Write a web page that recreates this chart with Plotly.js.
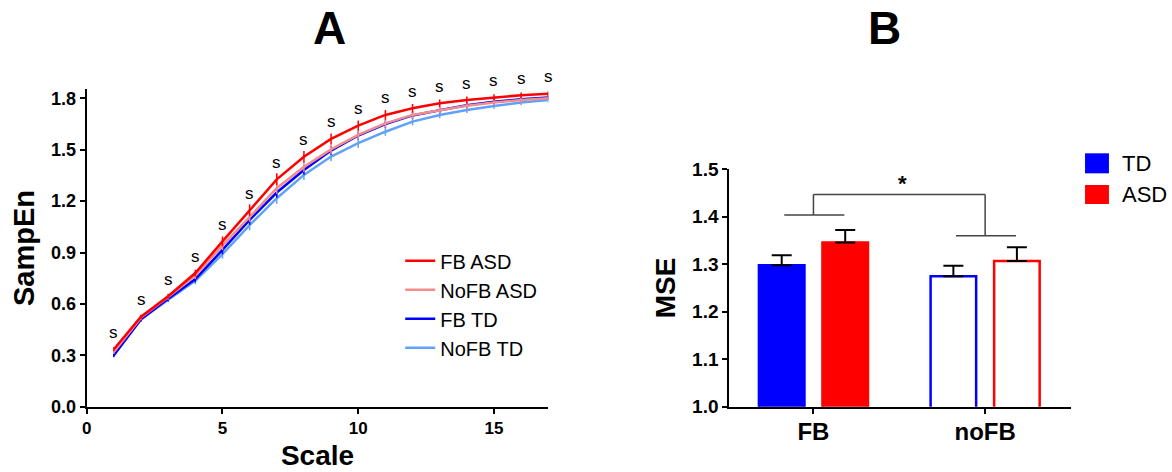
<!DOCTYPE html>
<html>
<head>
<meta charset="utf-8">
<script src="https://cdn.plot.ly/plotly-3.0.1.min.js"></script>
<style>html,body{margin:0;padding:0;background:#fff;}#chart{width:1172px;height:472px;}</style>
</head>
<body>
<div id="chart"></div>
<script>
// ---- Panel A data (multiscale entropy curves) ----
const scales = [1,2,3,4,5,6,7,8,9,10,11,12,13,14,15,16,17];
const fbAsd   = [0.335,0.525,0.645,0.780,0.965,1.148,1.327,1.459,1.563,1.641,1.703,1.742,1.771,1.790,1.806,1.818,1.826];
const noFbAsd = [0.320,0.520,0.640,0.765,0.940,1.110,1.275,1.400,1.502,1.586,1.654,1.703,1.732,1.757,1.775,1.790,1.800];
const fbTd    = [0.300,0.510,0.630,0.745,0.915,1.090,1.250,1.382,1.495,1.583,1.650,1.700,1.730,1.760,1.780,1.795,1.805];
const noFbTd  = [0.305,0.510,0.625,0.735,0.890,1.060,1.217,1.353,1.460,1.538,1.605,1.664,1.703,1.732,1.755,1.775,1.790];
const fbAsdErr   = [0.012,0.012,0.015,0.020,0.028,0.033,0.035,0.034,0.032,0.030,0.028,0.025,0.022,0.020,0.018,0.016,0.015];
const noFbAsdErr = [0.012,0.012,0.015,0.020,0.026,0.030,0.032,0.030,0.028,0.026,0.024,0.022,0.020,0.018,0.016,0.015,0.014];
const fbTdErr    = [0.012,0.012,0.015,0.018,0.025,0.028,0.030,0.028,0.026,0.024,0.022,0.020,0.018,0.016,0.015,0.014,0.013];
const noFbTdErr  = [0.012,0.012,0.015,0.020,0.026,0.030,0.032,0.030,0.028,0.026,0.024,0.022,0.020,0.018,0.016,0.015,0.014];
const sigMarks = ['s','s','s','s','s','s','s','s','s','s','s','s','s','s','s','s','s'];

// ---- Panel B data (mean MSE) ----
const conditions = ['FB','noFB'];
const tdMse  = [1.298,1.275];
const tdSem  = [0.021,0.022];
const asdMse = [1.346,1.307];
const asdSem = [0.026,0.029];
const groupNames = ['TD','ASD'];

const FONT = 'Liberation Sans, Arial, sans-serif';
const RED = '#FF0000', PINK = '#F58C8C', BLUE = '#0000FF', LBLUE = '#5FA2F7';

function lineTrace(y, err, name, color, rank) {
  return {
    type: 'scatter', mode: 'lines', x: scales, y: y, name: name,
    xaxis: 'x', yaxis: 'y', legendgroup: name, legendrank: rank,
    line: {color: color, width: 2.5},
    error_y: {type: 'data', array: err, visible: true, color: color, thickness: 1.5, width: 0}
  };
}

const traces = [
  lineTrace(noFbTd, noFbTdErr, 'NoFB TD', LBLUE, 4),
  lineTrace(fbTd, fbTdErr, 'FB TD', BLUE, 3),
  lineTrace(noFbAsd, noFbAsdErr, 'NoFB ASD', PINK, 2),
  lineTrace(fbAsd, fbAsdErr, 'FB ASD', RED, 1),
  {
    type: 'bar', x: conditions, y: tdMse, name: groupNames[0], xaxis: 'x2', yaxis: 'y2', showlegend: false,
    marker: {color: [BLUE, '#FFFFFF'], line: {color: BLUE, width: 2.5}},
    error_y: {type: 'data', array: tdSem, arrayminus: [0,0], symmetric: false, color: '#000', thickness: 2, width: 10}
  },
  {
    type: 'bar', x: conditions, y: asdMse, name: groupNames[1], xaxis: 'x2', yaxis: 'y2', showlegend: false,
    marker: {color: [RED, '#FFFFFF'], line: {color: RED, width: 2.5}},
    error_y: {type: 'data', array: asdSem, arrayminus: [0,0], symmetric: false, color: '#000', thickness: 2, width: 10}
  }
];

// significance markers above red curve
const annotations = scales.map((s, i) => ({
  x: s, y: fbAsd[i], xref: 'x', yref: 'y', text: sigMarks[i], showarrow: false,
  yshift: 17, font: {family: FONT, size: 17, color: '#000'}
}));

annotations.push(
  {x: 0.2651, y: 0.9417, xref: 'paper', yref: 'paper', text: 'A', showarrow: false, yanchor: 'middle',
   font: {family: FONT, size: 46, color: '#000', weight: 'bold'}},
  {x: 0.7705, y: 0.9417, xref: 'paper', yref: 'paper', text: 'B', showarrow: false, yanchor: 'middle',
   font: {family: FONT, size: 46, color: '#000', weight: 'bold'}}
);

// bracket levels derived from bar tops
const fbTop = Math.max(tdMse[0] + tdSem[0], asdMse[0] + asdSem[0]);
const nfTop = Math.max(tdMse[1] + tdSem[1], asdMse[1] + asdSem[1]);
const yFb = fbTop + 0.032, yNf = nfTop + 0.024, yTop = yFb + 0.043;
const BR = {color: '#444', width: 1.5};
const shapes = [
  {type: 'line', xref: 'x2', yref: 'y2', x0: -0.17, x1: 0.18, y0: yFb, y1: yFb, line: BR},
  {type: 'line', xref: 'x2', yref: 'y2', x0: 0, x1: 0, y0: yFb, y1: yTop, line: BR},
  {type: 'line', xref: 'x2', yref: 'y2', x0: 0, x1: 1, y0: yTop, y1: yTop, line: BR},
  {type: 'line', xref: 'x2', yref: 'y2', x0: 1, x1: 1, y0: yTop, y1: yNf, line: BR},
  {type: 'line', xref: 'x2', yref: 'y2', x0: 0.83, x1: 1.18, y0: yNf, y1: yNf, line: BR},
  // legend swatches for panel B
  {type: 'rect', xref: 'paper', yref: 'paper', x0: 0.9258, x1: 0.9462, y0: 0.6328, y1: 0.6752,
   fillcolor: BLUE, line: {width: 0}},
  {type: 'rect', xref: 'paper', yref: 'paper', x0: 0.9258, x1: 0.9462, y0: 0.5678, y1: 0.6081,
   fillcolor: RED, line: {width: 0}}
];
annotations.push(
  {x: 0.52, y: yTop, xref: 'x2', yref: 'y2', text: '*', showarrow: false, yanchor: 'bottom',
   yshift: -4, font: {family: FONT, size: 22, color: '#000', weight: 'bold'}},
  {x: 0.9556, y: 0.654, xref: 'paper', yref: 'paper', text: groupNames[0], showarrow: false,
   xanchor: 'left', yanchor: 'middle', font: {family: FONT, size: 22, color: '#000'}},
  {x: 0.9556, y: 0.5883, xref: 'paper', yref: 'paper', text: groupNames[1], showarrow: false,
   xanchor: 'left', yanchor: 'middle', font: {family: FONT, size: 22, color: '#000'}}
);

const axisCommon = {
  showline: true, linecolor: '#000', linewidth: 2, ticks: 'outside', ticklen: 5,
  tickwidth: 2, tickcolor: '#000', showgrid: false, zeroline: false, automargin: false
};

const layout = {
  width: 1172, height: 472,
  margin: {l: 0, r: 0, t: 0, b: 0},
  paper_bgcolor: '#fff', plot_bgcolor: '#fff',
  font: {family: FONT, color: '#000'},
  showlegend: true,
  legend: {x: 0.3415, xanchor: 'left', y: 0.489, yanchor: 'top', traceorder: 'grouped', tracegroupgap: 0,
           font: {family: FONT, size: 20, color: '#000'}, bgcolor: 'rgba(0,0,0,0)'},
  barmode: 'group', bargap: 0.26, bargroupgap: 0.283,
  xaxis: Object.assign({}, axisCommon, {
    domain: [0.07398, 0.46783], range: [0, 17], tickvals: [0,5,10,15],
    tickfont: {family: FONT, size: 17, weight: 'bold'},
    title: {text: 'Scale', standoff: 8, font: {family: FONT, size: 28, weight: 'bold'}}
  }),
  yaxis: Object.assign({}, axisCommon, {
    domain: [0.1383, 0.8108], range: [0, 1.8525], tickvals: [0,0.3,0.6,0.9,1.2,1.5,1.8],
    tickformat: '.1f', tickfont: {family: FONT, size: 18, weight: 'bold'},
    title: {text: 'SampEn', standoff: 8, font: {family: FONT, size: 29, weight: 'bold'}}
  }),
  xaxis2: Object.assign({}, axisCommon, {
    domain: [0.6223, 0.9138], range: [-0.49, 1.5], anchor: 'y2', type: 'category',
    tickfont: {family: FONT, size: 24, weight: 'bold'}, ticklabelstandoff: -3
  }),
  yaxis2: Object.assign({}, axisCommon, {
    domain: [0.1383, 0.6413], range: [1.0, 1.5], anchor: 'x2', dtick: 0.1,
    tickformat: '.1f', tickfont: {family: FONT, size: 19, weight: 'bold'},
    title: {text: 'MSE', standoff: 8, font: {family: FONT, size: 28, weight: 'bold'}}
  }),
  annotations: annotations,
  shapes: shapes
};

Plotly.newPlot('chart', traces, layout, {displayModeBar: false, staticPlot: true});
</script>
</body>
</html>
